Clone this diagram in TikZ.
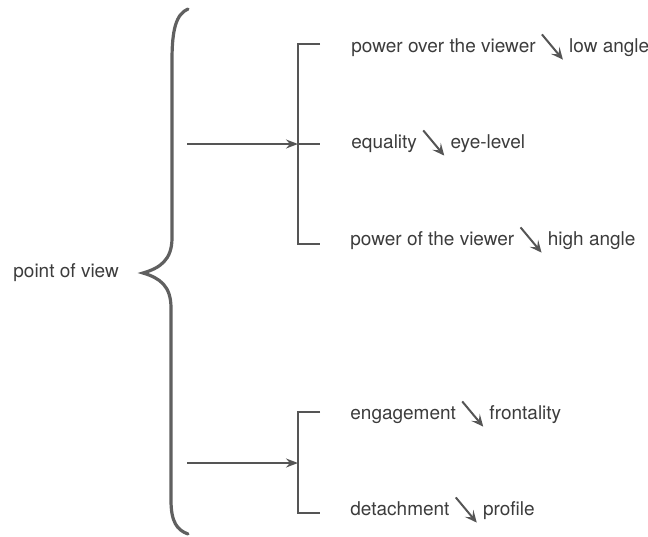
\documentclass[tikz,border=0pt]{standalone}
\usepackage{fontspec}
\setmainfont{TeX Gyre Heros}
\usepackage{tikz}
\usetikzlibrary{arrows.meta,positioning}

\definecolor{inkgray}{HTML}{3C3C3C}
\definecolor{pengray}{HTML}{555555}

% slanted 'is realized by' arrow used inside the labels
\newcommand{\realizes}{\tikz[baseline=0pt,x=1pt,y=1pt]{\draw[pengray,line width=1pt,-{Stealth[length=6pt,width=5.5pt,inset=2.6pt]}] (0,8.8) -- (10.5,-3.8);}}

\begin{document}
\begin{tikzpicture}[x=0.5pt,y=-0.5pt,
    font=\fontsize{9.5}{11}\selectfont,
    txt/.style={anchor=base west, inner sep=0pt, text=inkgray},
    brk/.style={pengray, line width=0.9pt},
    link/.style={pengray, line width=0.9pt, -{Stealth[length=6pt,width=4.5pt,inset=2pt]}},
    brace/.style={gray!75!black, line width=1.6pt, line cap=round}]
    \useasboundingbox (0,0) rectangle (648,536);

    % Left label and the big brace
    \node[txt] (pov) at (13,277) {point of view};
    \draw[brace] (188,9) .. controls (176,14) and (172,30) .. (172,60) -- (172,238)
        .. controls (172,260) and (160,268) .. (143,273)
        .. controls (160,278) and (171,286) .. (171,308) -- (171,500)
        .. controls (171,522) and (177,530) .. (188,534);

    % Upper bracket: angle
    \coordinate (upfrom) at (187,144);
    \coordinate (upmid) at (298,144);
    \draw[brk] (320,44) -- (298,44) -- (298,244) -- (320,244);
    \draw[brk] (upmid) -- ++(22,0);
    \draw[link] (upfrom) -- (upmid);
    \node[txt] (lowang) at (351,52) {power over the viewer \realizes{} low angle};
    \node[txt] (eyelev) at (351,148) {equality \realizes{} eye-level};
    \node[txt] (highang) at (350,245) {power of the viewer \realizes{} high angle};

    % Lower bracket: frontality
    \coordinate (lowfrom) at (187,463);
    \coordinate (lowmid) at (298,463);
    \draw[brk] (320,412) -- (298,412) -- (298,513) -- (320,513);
    \draw[link] (lowfrom) -- (lowmid);
    \node[txt] (front) at (350,419) {engagement \realizes{} frontality};
    \node[txt] (profile) at (350,515) {detachment \realizes{} profile};
\end{tikzpicture}
\end{document}
